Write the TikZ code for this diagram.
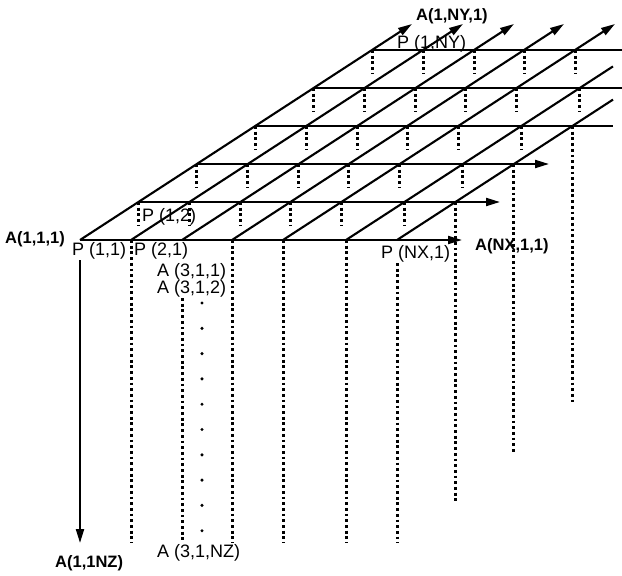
\documentclass[tikz,border=0pt]{standalone}
\usepackage{fontspec}
\setmainfont{Liberation Sans}
\usetikzlibrary{arrows.meta,calc}
\begin{document}
\begin{tikzpicture}[x=1pt,y=-1pt,
  gridline/.style={line width=2.1pt},
  axisarrow/.style={line width=2.1pt,-{Triangle[length=14pt,width=8pt]}},
  column/.style={line width=3pt,dash pattern=on 2.8pt off 2.9pt},
  lab/.style={inner sep=0pt,anchor=base west,font=\fontsize{18}{20}\selectfont},
  blab/.style={inner sep=0pt,anchor=base west,font=\fontsize{16.5}{18}\selectfont\bfseries}]
\useasboundingbox (0,0) rectangle (622,576);
% grid points P(i,j)
\foreach \i/\xx in {1/80,2/131,3/182,4/232,5/283,6/346,7/397}
  \foreach \j in {1,...,6}
    \coordinate (p\i\j) at ({\xx+(\j-1)*58.4},{240-(\j-1)*38});
% free ends
\coordinate (r1e) at (462,240);
\coordinate (r2e) at (500,202);
\coordinate (r3e) at (549,164);
\coordinate (r4e) at (613,126);
\coordinate (r5e) at (622,88);
\coordinate (r6e) at (622,50);
\coordinate (d6e) at (613,66.4);
\coordinate (d7e) at (613,99.6);
% rows
\draw[axisarrow] (p11) -- (r1e);
\draw[axisarrow] (p12) -- (r2e);
\draw[axisarrow] (p13) -- (r3e);
\draw[gridline] (p14) -- (r4e);
\draw[gridline] (p15) -- (r5e);
\draw[gridline] (p16) -- (r6e);
% diagonals
\foreach \i in {1,...,5}
  \draw[axisarrow] (p\i1) -- ($(p\i6)+(40,-26)$);
\draw[gridline] (p61) -- (d6e);
\draw[gridline] (p71) -- (d7e);
% short hidden columns
\foreach \j in {2,...,5}
  \foreach \i in {1,...,6}
    \draw[column] (p\i\j) -- ++(0,24);
\foreach \i in {1,...,5}
  \draw[column] (p\i6) -- ++(0,24);
% long visible columns
\coordinate (c3t) at (182,298);
\coordinate (c7t) at (397,263);
\draw[column] (p21) -- (131,543);
\draw[column] (c3t) -- (182,543);
\draw[column] (p41) -- (232,543);
\draw[column] (p51) -- (283,543);
\draw[column] (p61) -- (346,543);
\draw[column] (c7t) -- (397,543);
\draw[column] (p72) -- ++(0,302);
\draw[column] (p73) -- ++(0,289);
\draw[column] (p74) -- ++(0,277);
% z axis
\coordinate (zt) at (80,260);
\coordinate (zb) at (80,543);
\draw[axisarrow] (zt) -- (zb);
% vertical ellipsis
\foreach \k in {0,...,9}
  \fill (202,{303+\k*25.3}) circle (1.7pt);
% labels
\node[blab] (a111) at (5,243) {A(1,1,1)};
\node[lab] (l11) at (72,255) {P (1,1)};
\node[lab] (l21) at (134,255) {P (2,1)};
\node[lab] (l12) at (142,221) {P (1,2)};
\node[lab] (a311) at (157,276) {A (3,1,1)};
\node[lab] (a312) at (157,293) {A (3,1,2)};
\node[lab] (a31nz) at (157,557) {A (3,1,NZ)};
\node[blab] (a11nz) at (55,567) {A(1,1NZ)};
\node[lab] (lnx1) at (381,258) {P (NX,1)};
\node[blab] (anx11) at (475,250) {A(NX,1,1)};
\node[lab] (l1ny) at (397,48) {P (1,NY)};
\node[blab] (a1ny1) at (416,20) {A(1,NY,1)};
\end{tikzpicture}
\end{document}
